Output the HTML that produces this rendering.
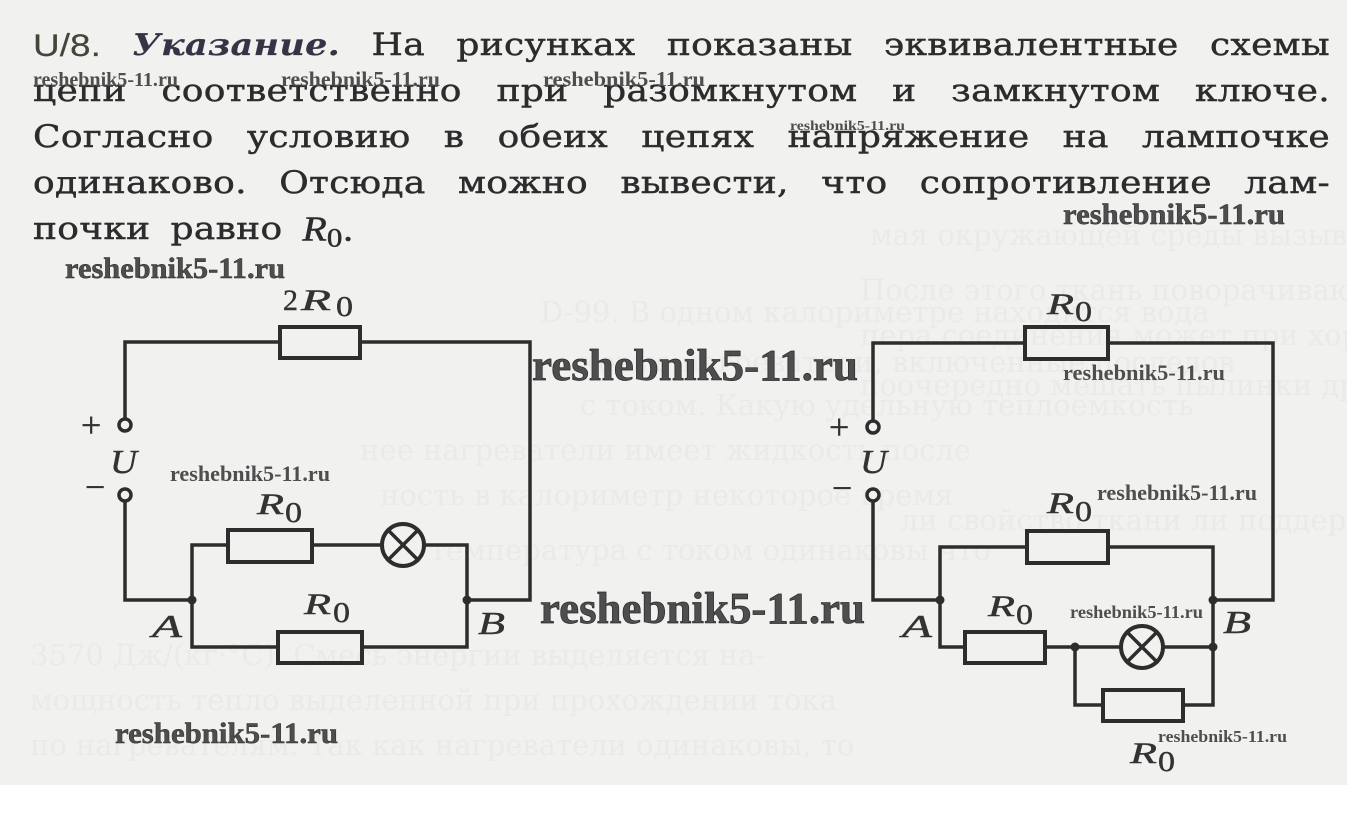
<!DOCTYPE html>
<html>
<head>
<meta charset="utf-8">
<style>
html,body{margin:0;padding:0;background:#fff;}
#page{position:relative;width:1347px;height:817px;overflow:hidden;background:#fff;}
.bg{position:absolute;left:0;top:0;width:1347px;height:785px;background:#f1f1ef;}
.line{position:absolute;left:33px;width:1297px;display:flex;justify-content:space-between;
 font-family:"DejaVu Serif","Liberation Serif","Noto Serif CJK SC",serif;font-size:36px;line-height:36px;
 letter-spacing:0.3px;color:#2c2c2c;white-space:nowrap;-webkit-text-stroke:0.5px #2c2c2c;
 transform:scaleY(0.86);transform-origin:0 0;}
.line span{display:block;}
.l5{justify-content:flex-start;gap:20px;width:auto;}
.num{font-family:"Liberation Sans","DejaVu Sans",sans-serif;color:#45453a;letter-spacing:0;font-size:37px;-webkit-text-stroke:0.2px #45453a;}
.ukz{font-weight:bold;font-style:italic;color:#383246;-webkit-text-stroke:0.2px #383246;font-size:35px;}
.ri{font-family:"Liberation Serif",serif;font-style:italic;font-size:40px;letter-spacing:0;}
sub{font-family:"Liberation Serif",serif;font-size:31px;letter-spacing:0;vertical-align:-7px;line-height:0;}
svg{position:absolute;left:0;top:0;}
</style>
</head>
<body>
<div id="page">
<div class="bg"></div>

<!-- faint bleed-through text -->
<svg width="1347" height="817" viewBox="0 0 1347 817" font-family="DejaVu Serif, Liberation Serif, serif" font-size="29" fill="#eaeae8">
 <text x="870" y="245">мая окружающей среды вызывает при</text>
 <text x="860" y="300">После этого ткань поворачивают и наклад</text>
 <text x="540" y="322">D-99. В одном калориметре находится вода</text>
 <text x="860" y="345">пера соединения может при хорошем</text>
 <text x="580" y="372">ковые нагреватели, включенные последов</text>
 <text x="860" y="395">поочередно мешать пылинки другого</text>
 <text x="580" y="415">с током. Какую удельную теплоемкость</text>
 <text x="360" y="460">нее нагреватели имеет жидкость после</text>
 <text x="380" y="505">ность в калориметр некоторое время</text>
 <text x="900" y="530">ли свойство ткани ли поддерживать</text>
 <text x="430" y="560">температура с током одинаковы что</text>
 <text x="30" y="665">3570 Дж/(кг·°С). Смесь энергии выделяется на-</text>
 <text x="30" y="710">мощность тепло выделенной при прохождении тока</text>
 <text x="30" y="755">по нагревателям. Так как нагреватели одинаковы, то</text>
</svg>

<div class="line" style="top:30px;">
 <span class="num">U/8.</span><span class="ukz">Указание.</span><span>На</span><span>рисунках</span><span>показаны</span><span>эквивалентные</span><span>схемы</span>
</div>
<div class="line" style="top:76px;">
 <span>цепи</span><span>соответственно</span><span>при</span><span>разомкнутом</span><span>и</span><span>замкнутом</span><span>ключе.</span>
</div>
<div class="line" style="top:122px;">
 <span>Согласно</span><span>условию</span><span>в</span><span>обеих</span><span>цепях</span><span>напряжение</span><span>на</span><span>лампочке</span>
</div>
<div class="line" style="top:168px;">
 <span>одинаково.</span><span>Отсюда</span><span>можно</span><span>вывести,</span><span>что</span><span>сопротивление</span><span>лам-</span>
</div>
<div class="line l5" style="top:214px;">
 <span>почки</span><span>равно</span><span><span class="ri" style="display:inline">R</span><sub>0</sub>.</span>
</div>

<svg width="1347" height="817" viewBox="0 0 1347 817">
 <g stroke="#2d2d2d" stroke-width="3.5" fill="none" stroke-linecap="square">
  <!-- LEFT CIRCUIT -->
  <path d="M125,419 V342 H280 M360,342 H530 V600 H467"/>
  <path d="M125,501 V600 H192"/>
  <path d="M192,600 V545 H228 M312,545 H382 M424,545 H467 V647 H362 M278,647 H192 V600"/>
  <rect x="280" y="327" width="80" height="31" stroke-width="4"/>
  <rect x="228" y="530" width="84" height="32" stroke-width="4"/>
  <rect x="278" y="632" width="84" height="31" stroke-width="4"/>
  <circle cx="403" cy="545" r="21" stroke-width="4"/>
  <path d="M388,530 L418,560 M418,530 L388,560" stroke-width="3.5"/>
  <circle cx="125" cy="425" r="6" fill="#f1f1ef" stroke-width="3.5"/>
  <circle cx="125" cy="495" r="6" fill="#f1f1ef" stroke-width="3.5"/>

  <!-- RIGHT CIRCUIT -->
  <path d="M873,421 V343 H1025 M1108,343 H1273 V600 H1213"/>
  <path d="M873,501 V600 H940"/>
  <path d="M940,600 V547 H1027 M1108,547 H1213 V705 H1183 M1103,705 H1075 V647"/>
  <path d="M940,600 V647 H965 M1045,647 H1121 M1163,647 H1213"/>
  <rect x="1025" y="327" width="83" height="32" stroke-width="4"/>
  <rect x="1027" y="531" width="81" height="32" stroke-width="4"/>
  <rect x="965" y="632" width="80" height="31" stroke-width="4"/>
  <rect x="1103" y="690" width="80" height="31" stroke-width="4"/>
  <circle cx="1142" cy="647" r="21" stroke-width="4"/>
  <path d="M1127,632 L1157,662 M1157,632 L1127,662" stroke-width="3.5"/>
  <circle cx="873" cy="427" r="6" fill="#f1f1ef" stroke-width="3.5"/>
  <circle cx="873" cy="495" r="6" fill="#f1f1ef" stroke-width="3.5"/>
 </g>
 <g fill="#2d2d2d">
  <circle cx="192" cy="600" r="4.5"/>
  <circle cx="467" cy="600" r="4.5"/>
  <circle cx="940" cy="600" r="4.5"/>
  <circle cx="1213" cy="600" r="4.5"/>
  <circle cx="1075" cy="647" r="4.5"/>
  <circle cx="1213" cy="647" r="4.5"/>
 </g>

 <!-- labels -->
 <g font-family="Liberation Serif, serif" fill="#333" stroke="#333" stroke-width="0.4">
  <!-- left -->
  <text x="283" y="310" font-size="30">2</text>
  <text x="301" y="310" font-size="30" font-style="italic" textLength="30" lengthAdjust="spacingAndGlyphs">R</text>
  <text x="336" y="316" font-size="28" textLength="17" lengthAdjust="spacingAndGlyphs">0</text>

  <text x="257" y="514" font-size="30" font-style="italic" textLength="27" lengthAdjust="spacingAndGlyphs">R</text>
  <text x="285" y="522" font-size="28" textLength="17" lengthAdjust="spacingAndGlyphs">0</text>

  <text x="304" y="614" font-size="30" font-style="italic" textLength="27" lengthAdjust="spacingAndGlyphs">R</text>
  <text x="333" y="622" font-size="28" textLength="17" lengthAdjust="spacingAndGlyphs">0</text>

  <text x="152" y="637" font-size="32" font-style="italic" textLength="30" lengthAdjust="spacingAndGlyphs">A</text>
  <text x="478" y="634" font-size="32" font-style="italic" textLength="27" lengthAdjust="spacingAndGlyphs">B</text>
  <text x="81" y="437" font-size="36">+</text>
  <text x="110" y="473" font-size="34" font-style="italic" textLength="27" lengthAdjust="spacingAndGlyphs">U</text>
  <text x="85" y="499" font-size="36">−</text>

  <!-- right -->
  <text x="1047" y="314" font-size="30" font-style="italic" textLength="27" lengthAdjust="spacingAndGlyphs">R</text>
  <text x="1075" y="321" font-size="28" textLength="17" lengthAdjust="spacingAndGlyphs">0</text>

  <text x="1047" y="513" font-size="30" font-style="italic" textLength="27" lengthAdjust="spacingAndGlyphs">R</text>
  <text x="1075" y="521" font-size="28" textLength="17" lengthAdjust="spacingAndGlyphs">0</text>

  <text x="988" y="616" font-size="30" font-style="italic" textLength="27" lengthAdjust="spacingAndGlyphs">R</text>
  <text x="1016" y="624" font-size="28" textLength="17" lengthAdjust="spacingAndGlyphs">0</text>

  <text x="1130" y="763" font-size="30" font-style="italic" textLength="27" lengthAdjust="spacingAndGlyphs">R</text>
  <text x="1158" y="771" font-size="28" textLength="17" lengthAdjust="spacingAndGlyphs">0</text>

  <text x="902" y="637" font-size="32" font-style="italic" textLength="30" lengthAdjust="spacingAndGlyphs">A</text>
  <text x="1223" y="633" font-size="32" font-style="italic" textLength="28" lengthAdjust="spacingAndGlyphs">B</text>
  <text x="829" y="439" font-size="36">+</text>
  <text x="860" y="473" font-size="34" font-style="italic" textLength="27" lengthAdjust="spacingAndGlyphs">U</text>
  <text x="832" y="500" font-size="36">−</text>
 </g>

 <!-- watermarks -->
 <g font-family="Liberation Serif, serif" font-weight="bold" fill="#4e4e4e">
  <text x="33" y="86" font-size="20" textLength="145" lengthAdjust="spacingAndGlyphs">reshebnik5-11.ru</text>
  <text x="281" y="86" font-size="21" textLength="159" lengthAdjust="spacingAndGlyphs">reshebnik5-11.ru</text>
  <text x="543" y="86" font-size="21" textLength="162" lengthAdjust="spacingAndGlyphs">reshebnik5-11.ru</text>
  <text x="790" y="130" font-size="14" textLength="115" lengthAdjust="spacingAndGlyphs">reshebnik5-11.ru</text>
  <text x="1063" y="224" font-size="30" textLength="222" lengthAdjust="spacingAndGlyphs" stroke="#2a2a2a" stroke-width="0.5">reshebnik5-11.ru</text>
  <text x="65" y="278" font-size="30" textLength="220" lengthAdjust="spacingAndGlyphs" stroke="#2a2a2a" stroke-width="0.5">reshebnik5-11.ru</text>
  <text x="532" y="380" font-size="44" textLength="326" lengthAdjust="spacingAndGlyphs" stroke="#2a2a2a" stroke-width="0.7">reshebnik5-11.ru</text>
  <text x="1063" y="380" font-size="22" textLength="162" lengthAdjust="spacingAndGlyphs">reshebnik5-11.ru</text>
  <text x="170" y="481" font-size="22" textLength="160" lengthAdjust="spacingAndGlyphs">reshebnik5-11.ru</text>
  <text x="1097" y="500" font-size="22" textLength="160" lengthAdjust="spacingAndGlyphs">reshebnik5-11.ru</text>
  <text x="540" y="623" font-size="44" textLength="325" lengthAdjust="spacingAndGlyphs" stroke="#2a2a2a" stroke-width="0.7">reshebnik5-11.ru</text>
  <text x="1070" y="618" font-size="18" textLength="133" lengthAdjust="spacingAndGlyphs">reshebnik5-11.ru</text>
  <text x="115" y="743" font-size="30" textLength="223" lengthAdjust="spacingAndGlyphs" stroke="#2a2a2a" stroke-width="0.5">reshebnik5-11.ru</text>
  <text x="1158" y="742" font-size="17" textLength="129" lengthAdjust="spacingAndGlyphs">reshebnik5-11.ru</text>
 </g>
</svg>
</div>
</body>
</html>
